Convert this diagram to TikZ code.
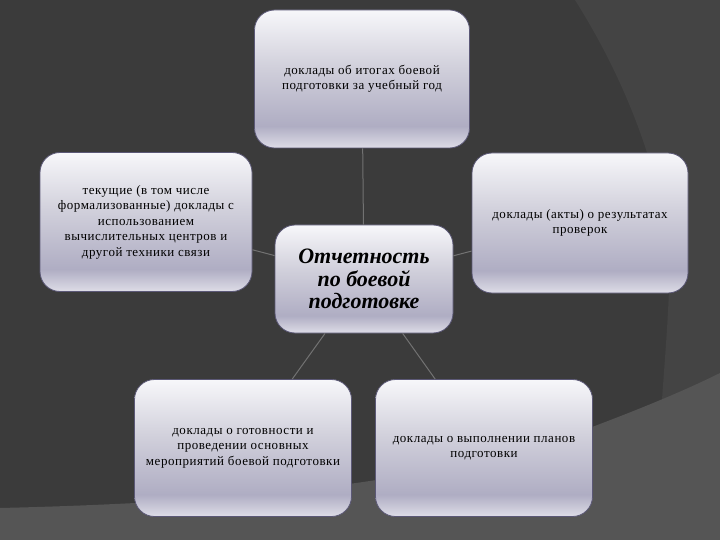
\documentclass[tikz,border=0pt]{standalone}
\usepackage{fontspec}
\setmainfont{Liberation Serif}
\newfontfamily\slidefont{Liberation Serif}[LetterSpace=4]
\usetikzlibrary{positioning}

\definecolor{bgdark}{HTML}{3B3B3B}
\definecolor{bgswoosh}{HTML}{444444}
\definecolor{bgfloor}{HTML}{555555}
\definecolor{shtop}{HTML}{F7F7FA}
\definecolor{shmid}{HTML}{D2D1DC}
\definecolor{shdark}{HTML}{AFADC3}
\definecolor{shlow}{HTML}{DEDDE7}
\definecolor{rim}{HTML}{5B5876}
\definecolor{link}{HTML}{727272}

\pgfdeclareverticalshading{boxshade}{100bp}{color(0bp)=(shlow); color(25bp)=(shlow);
  color(33bp)=(shdark); color(55bp)=(shmid); color(75bp)=(shtop); color(100bp)=(shtop)}

\begin{document}
\begin{tikzpicture}[
		x = 1pt, y = -1pt, % pixel grid of the slide
		line join = round
		]
		
		\tikzstyle{box}=[
		draw = rim,
		line width = 0.8pt,
		rounded corners = 20pt,
		shading = boxshade,
		align = center,
		inner sep = 4pt,
		font = \slidefont\fontsize{13}{15.5}\selectfont
		]
		\tikzstyle{outer}=[box, minimum width = 215pt, minimum height = 138pt]
		\tikzstyle{wire}=[draw = link, line width = 1pt]
		
		% slide background
		\fill[bgdark] (0,0) rectangle (720,540);
		\fill[bgswoosh] (575,0) .. controls (632,90) and (672,200) .. (669,290)
			.. controls (667,340) and (663,380) .. (660,430) -- (720,430) -- (720,0) -- cycle;
		\fill[bgfloor] (0,508) .. controls (250,502) and (450,482) .. (600,424)
			.. controls (650,405) and (690,388) .. (720,373) -- (720,540) -- (0,540) -- cycle;
		\useasboundingbox (0,0) rectangle (720,540);
		
		\node[box, minimum width = 178pt, minimum height = 108pt,
			font = \bfseries\itshape\fontsize{22}{22.5}\selectfont] (report) at (364,279)
			{Отчетность\\по боевой\\подготовке};
		\node[outer] (annual) at (362,79)
			{доклады об итогах боевой\\подготовки за учебный год};
		\node[outer, minimum width = 212pt, minimum height = 139pt] (current) at (146,222)
			{текущие (в том числе\\формализованные) доклады с\\использованием\\вычислительных центров и\\другой техники связи};
		\node[outer, minimum width = 216pt, minimum height = 140pt] (checks) at (580,223)
			{доклады (акты) о результатах\\проверок};
		\node[outer, minimum width = 217pt, minimum height = 137pt] (readiness) at (243,448)
			{доклады о готовности и\\проведении основных\\мероприятий боевой подготовки};
		\node[outer, minimum width = 217pt, minimum height = 137pt] (plans) at (484,448)
			{доклады о выполнении планов\\подготовки};
		
		\path[wire] (report) edge (annual);
		\path[wire] (report) edge (current);
		\path[wire] (report) edge (checks);
		\path[wire] (report) edge (readiness);
		\path[wire] (report) edge (plans);
		\end{tikzpicture}
\end{document}
